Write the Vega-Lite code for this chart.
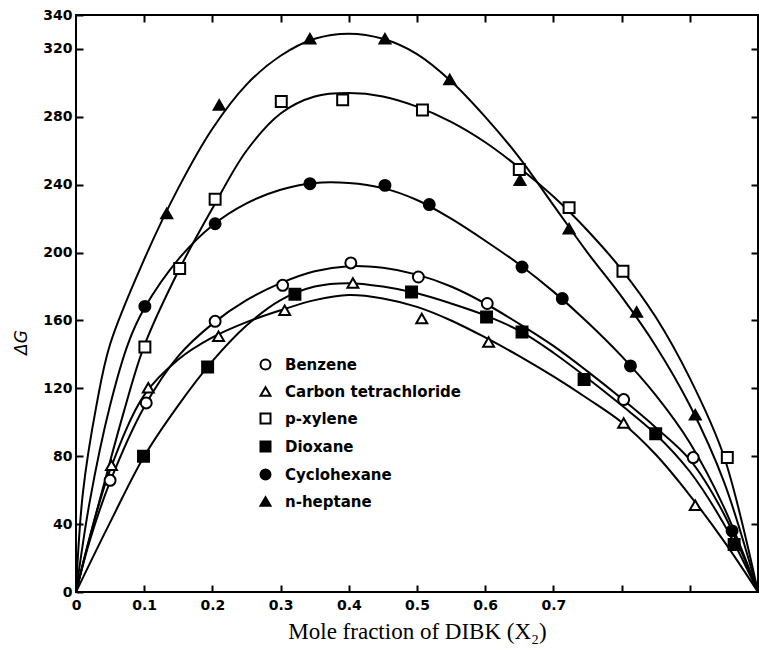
{
  "$schema": "https://vega.github.io/schema/vega-lite/v6.json",
  "width": 682,
  "height": 577,
  "autosize": "none",
  "padding": {"left": 76, "top": 15, "right": 1, "bottom": 61},
  "background": "white",
  "config": {
    "view": {"stroke": "black", "strokeWidth": 2},
    "axis": {"grid": false, "domain": false, "tickColor": "black", "tickWidth": 2, "tickSize": -7, "labelColor": "black", "titleColor": "black", "labelFont": "DejaVu Sans", "labelFontWeight": "bold", "labelFontSize": 14},
    "legend": {"orient": "none", "legendX": 182, "legendY": 342, "padding": 0, "labelFont": "DejaVu Sans", "labelFontWeight": "bold", "labelFontSize": 15, "labelColor": "black", "labelLimit": 0, "labelOffset": 12, "rowPadding": 9, "symbolSize": 100, "symbolStrokeWidth": 2}
  },
  "datasets": {
    "points": [
      {"solvent": "Benzene", "x": 0.050, "dG": 65.8},
      {"solvent": "Benzene", "x": 0.103, "dG": 111.4},
      {"solvent": "Benzene", "x": 0.204, "dG": 159.5},
      {"solvent": "Benzene", "x": 0.303, "dG": 180.7},
      {"solvent": "Benzene", "x": 0.403, "dG": 193.9},
      {"solvent": "Benzene", "x": 0.502, "dG": 185.6},
      {"solvent": "Benzene", "x": 0.603, "dG": 170.0},
      {"solvent": "Benzene", "x": 0.803, "dG": 113.4},
      {"solvent": "Benzene", "x": 0.905, "dG": 79.2},
      {"solvent": "Carbon tetrachloride", "x": 0.052, "dG": 74.7},
      {"solvent": "Carbon tetrachloride", "x": 0.106, "dG": 120.4},
      {"solvent": "Carbon tetrachloride", "x": 0.209, "dG": 150.7},
      {"solvent": "Carbon tetrachloride", "x": 0.306, "dG": 166.0},
      {"solvent": "Carbon tetrachloride", "x": 0.406, "dG": 182.1},
      {"solvent": "Carbon tetrachloride", "x": 0.507, "dG": 161.1},
      {"solvent": "Carbon tetrachloride", "x": 0.605, "dG": 147.3},
      {"solvent": "Carbon tetrachloride", "x": 0.803, "dG": 99.6},
      {"solvent": "Carbon tetrachloride", "x": 0.908, "dG": 51.1},
      {"solvent": "p-xylene", "x": 0.101, "dG": 144.4},
      {"solvent": "p-xylene", "x": 0.152, "dG": 190.6},
      {"solvent": "p-xylene", "x": 0.204, "dG": 231.4},
      {"solvent": "p-xylene", "x": 0.301, "dG": 289.0},
      {"solvent": "p-xylene", "x": 0.391, "dG": 290.0},
      {"solvent": "p-xylene", "x": 0.508, "dG": 284.0},
      {"solvent": "p-xylene", "x": 0.650, "dG": 249.0},
      {"solvent": "p-xylene", "x": 0.723, "dG": 226.5},
      {"solvent": "p-xylene", "x": 0.802, "dG": 189.0},
      {"solvent": "p-xylene", "x": 0.955, "dG": 79.2},
      {"solvent": "Dioxane", "x": 0.099, "dG": 80.0},
      {"solvent": "Dioxane", "x": 0.193, "dG": 132.6},
      {"solvent": "Dioxane", "x": 0.321, "dG": 175.4},
      {"solvent": "Dioxane", "x": 0.492, "dG": 176.8},
      {"solvent": "Dioxane", "x": 0.602, "dG": 162.0},
      {"solvent": "Dioxane", "x": 0.654, "dG": 153.2},
      {"solvent": "Dioxane", "x": 0.745, "dG": 125.2},
      {"solvent": "Dioxane", "x": 0.850, "dG": 93.3},
      {"solvent": "Dioxane", "x": 0.965, "dG": 28.0},
      {"solvent": "Cyclohexane", "x": 0.101, "dG": 168.3},
      {"solvent": "Cyclohexane", "x": 0.204, "dG": 217.0},
      {"solvent": "Cyclohexane", "x": 0.343, "dG": 240.6},
      {"solvent": "Cyclohexane", "x": 0.453, "dG": 239.6},
      {"solvent": "Cyclohexane", "x": 0.518, "dG": 228.3},
      {"solvent": "Cyclohexane", "x": 0.654, "dG": 191.5},
      {"solvent": "Cyclohexane", "x": 0.713, "dG": 172.9},
      {"solvent": "Cyclohexane", "x": 0.813, "dG": 133.2},
      {"solvent": "Cyclohexane", "x": 0.962, "dG": 36.0},
      {"solvent": "n-heptane", "x": 0.133, "dG": 223.0},
      {"solvent": "n-heptane", "x": 0.210, "dG": 287.0},
      {"solvent": "n-heptane", "x": 0.343, "dG": 326.0},
      {"solvent": "n-heptane", "x": 0.453, "dG": 326.0},
      {"solvent": "n-heptane", "x": 0.548, "dG": 302.0},
      {"solvent": "n-heptane", "x": 0.651, "dG": 242.6},
      {"solvent": "n-heptane", "x": 0.723, "dG": 214.0},
      {"solvent": "n-heptane", "x": 0.822, "dG": 165.0},
      {"solvent": "n-heptane", "x": 0.908, "dG": 104.5}
    ],
    "curves": [
      {"solvent": "Benzene", "x": 0, "dG": 0},
      {"solvent": "Benzene", "x": 0.02, "dG": 30},
      {"solvent": "Benzene", "x": 0.05, "dG": 65},
      {"solvent": "Benzene", "x": 0.1, "dG": 109},
      {"solvent": "Benzene", "x": 0.15, "dG": 139},
      {"solvent": "Benzene", "x": 0.2, "dG": 158},
      {"solvent": "Benzene", "x": 0.25, "dG": 172},
      {"solvent": "Benzene", "x": 0.3, "dG": 182},
      {"solvent": "Benzene", "x": 0.35, "dG": 189},
      {"solvent": "Benzene", "x": 0.4, "dG": 192},
      {"solvent": "Benzene", "x": 0.45, "dG": 191},
      {"solvent": "Benzene", "x": 0.5, "dG": 187},
      {"solvent": "Benzene", "x": 0.55, "dG": 180},
      {"solvent": "Benzene", "x": 0.6, "dG": 170},
      {"solvent": "Benzene", "x": 0.65, "dG": 158},
      {"solvent": "Benzene", "x": 0.7, "dG": 145},
      {"solvent": "Benzene", "x": 0.75, "dG": 130},
      {"solvent": "Benzene", "x": 0.8, "dG": 114},
      {"solvent": "Benzene", "x": 0.85, "dG": 97},
      {"solvent": "Benzene", "x": 0.9, "dG": 78},
      {"solvent": "Benzene", "x": 0.95, "dG": 46},
      {"solvent": "Benzene", "x": 1, "dG": 0},
      {"solvent": "Carbon tetrachloride", "x": 0, "dG": 0},
      {"solvent": "Carbon tetrachloride", "x": 0.02, "dG": 32},
      {"solvent": "Carbon tetrachloride", "x": 0.05, "dG": 72},
      {"solvent": "Carbon tetrachloride", "x": 0.1, "dG": 116},
      {"solvent": "Carbon tetrachloride", "x": 0.15, "dG": 137},
      {"solvent": "Carbon tetrachloride", "x": 0.2, "dG": 150},
      {"solvent": "Carbon tetrachloride", "x": 0.25, "dG": 159},
      {"solvent": "Carbon tetrachloride", "x": 0.3, "dG": 166},
      {"solvent": "Carbon tetrachloride", "x": 0.35, "dG": 172},
      {"solvent": "Carbon tetrachloride", "x": 0.4, "dG": 175},
      {"solvent": "Carbon tetrachloride", "x": 0.45, "dG": 173},
      {"solvent": "Carbon tetrachloride", "x": 0.5, "dG": 168},
      {"solvent": "Carbon tetrachloride", "x": 0.55, "dG": 160},
      {"solvent": "Carbon tetrachloride", "x": 0.6, "dG": 150},
      {"solvent": "Carbon tetrachloride", "x": 0.65, "dG": 139},
      {"solvent": "Carbon tetrachloride", "x": 0.7, "dG": 127},
      {"solvent": "Carbon tetrachloride", "x": 0.75, "dG": 114},
      {"solvent": "Carbon tetrachloride", "x": 0.8, "dG": 100},
      {"solvent": "Carbon tetrachloride", "x": 0.85, "dG": 81},
      {"solvent": "Carbon tetrachloride", "x": 0.9, "dG": 57},
      {"solvent": "Carbon tetrachloride", "x": 0.95, "dG": 30},
      {"solvent": "Carbon tetrachloride", "x": 1, "dG": 0},
      {"solvent": "p-xylene", "x": 0, "dG": 0},
      {"solvent": "p-xylene", "x": 0.02, "dG": 32},
      {"solvent": "p-xylene", "x": 0.04, "dG": 62},
      {"solvent": "p-xylene", "x": 0.07, "dG": 106},
      {"solvent": "p-xylene", "x": 0.1, "dG": 145},
      {"solvent": "p-xylene", "x": 0.15, "dG": 189},
      {"solvent": "p-xylene", "x": 0.2, "dG": 226},
      {"solvent": "p-xylene", "x": 0.25, "dG": 260},
      {"solvent": "p-xylene", "x": 0.3, "dG": 282},
      {"solvent": "p-xylene", "x": 0.35, "dG": 292},
      {"solvent": "p-xylene", "x": 0.4, "dG": 294},
      {"solvent": "p-xylene", "x": 0.45, "dG": 292},
      {"solvent": "p-xylene", "x": 0.5, "dG": 286},
      {"solvent": "p-xylene", "x": 0.55, "dG": 277},
      {"solvent": "p-xylene", "x": 0.6, "dG": 265},
      {"solvent": "p-xylene", "x": 0.65, "dG": 250},
      {"solvent": "p-xylene", "x": 0.7, "dG": 233},
      {"solvent": "p-xylene", "x": 0.75, "dG": 213},
      {"solvent": "p-xylene", "x": 0.8, "dG": 190},
      {"solvent": "p-xylene", "x": 0.85, "dG": 162},
      {"solvent": "p-xylene", "x": 0.9, "dG": 126},
      {"solvent": "p-xylene", "x": 0.95, "dG": 80},
      {"solvent": "p-xylene", "x": 1, "dG": 0},
      {"solvent": "Dioxane", "x": 0, "dG": 0},
      {"solvent": "Dioxane", "x": 0.05, "dG": 41},
      {"solvent": "Dioxane", "x": 0.1, "dG": 80},
      {"solvent": "Dioxane", "x": 0.15, "dG": 110},
      {"solvent": "Dioxane", "x": 0.2, "dG": 136},
      {"solvent": "Dioxane", "x": 0.25, "dG": 157},
      {"solvent": "Dioxane", "x": 0.3, "dG": 172},
      {"solvent": "Dioxane", "x": 0.35, "dG": 180},
      {"solvent": "Dioxane", "x": 0.4, "dG": 182},
      {"solvent": "Dioxane", "x": 0.45, "dG": 180},
      {"solvent": "Dioxane", "x": 0.5, "dG": 176},
      {"solvent": "Dioxane", "x": 0.55, "dG": 170},
      {"solvent": "Dioxane", "x": 0.6, "dG": 163},
      {"solvent": "Dioxane", "x": 0.65, "dG": 154},
      {"solvent": "Dioxane", "x": 0.7, "dG": 141},
      {"solvent": "Dioxane", "x": 0.75, "dG": 126},
      {"solvent": "Dioxane", "x": 0.8, "dG": 110},
      {"solvent": "Dioxane", "x": 0.85, "dG": 93},
      {"solvent": "Dioxane", "x": 0.9, "dG": 71},
      {"solvent": "Dioxane", "x": 0.95, "dG": 40},
      {"solvent": "Dioxane", "x": 1, "dG": 0},
      {"solvent": "Cyclohexane", "x": 0, "dG": 0},
      {"solvent": "Cyclohexane", "x": 0.02, "dG": 53},
      {"solvent": "Cyclohexane", "x": 0.05, "dG": 110},
      {"solvent": "Cyclohexane", "x": 0.077, "dG": 147},
      {"solvent": "Cyclohexane", "x": 0.1, "dG": 167},
      {"solvent": "Cyclohexane", "x": 0.15, "dG": 196},
      {"solvent": "Cyclohexane", "x": 0.2, "dG": 216},
      {"solvent": "Cyclohexane", "x": 0.25, "dG": 229},
      {"solvent": "Cyclohexane", "x": 0.3, "dG": 237},
      {"solvent": "Cyclohexane", "x": 0.35, "dG": 241},
      {"solvent": "Cyclohexane", "x": 0.4, "dG": 241},
      {"solvent": "Cyclohexane", "x": 0.45, "dG": 238},
      {"solvent": "Cyclohexane", "x": 0.5, "dG": 231},
      {"solvent": "Cyclohexane", "x": 0.55, "dG": 220},
      {"solvent": "Cyclohexane", "x": 0.6, "dG": 207},
      {"solvent": "Cyclohexane", "x": 0.65, "dG": 193},
      {"solvent": "Cyclohexane", "x": 0.7, "dG": 177},
      {"solvent": "Cyclohexane", "x": 0.75, "dG": 159},
      {"solvent": "Cyclohexane", "x": 0.8, "dG": 139},
      {"solvent": "Cyclohexane", "x": 0.85, "dG": 116},
      {"solvent": "Cyclohexane", "x": 0.9, "dG": 88},
      {"solvent": "Cyclohexane", "x": 0.95, "dG": 50},
      {"solvent": "Cyclohexane", "x": 1, "dG": 0},
      {"solvent": "n-heptane", "x": 0, "dG": 0},
      {"solvent": "n-heptane", "x": 0.01, "dG": 58},
      {"solvent": "n-heptane", "x": 0.03, "dG": 110},
      {"solvent": "n-heptane", "x": 0.05, "dG": 146},
      {"solvent": "n-heptane", "x": 0.1, "dG": 196},
      {"solvent": "n-heptane", "x": 0.15, "dG": 238},
      {"solvent": "n-heptane", "x": 0.2, "dG": 273},
      {"solvent": "n-heptane", "x": 0.25, "dG": 299},
      {"solvent": "n-heptane", "x": 0.3, "dG": 316},
      {"solvent": "n-heptane", "x": 0.35, "dG": 326},
      {"solvent": "n-heptane", "x": 0.4, "dG": 329},
      {"solvent": "n-heptane", "x": 0.45, "dG": 326},
      {"solvent": "n-heptane", "x": 0.5, "dG": 317},
      {"solvent": "n-heptane", "x": 0.55, "dG": 301},
      {"solvent": "n-heptane", "x": 0.6, "dG": 280},
      {"solvent": "n-heptane", "x": 0.65, "dG": 256},
      {"solvent": "n-heptane", "x": 0.7, "dG": 228},
      {"solvent": "n-heptane", "x": 0.75, "dG": 200},
      {"solvent": "n-heptane", "x": 0.8, "dG": 174},
      {"solvent": "n-heptane", "x": 0.85, "dG": 145},
      {"solvent": "n-heptane", "x": 0.9, "dG": 110},
      {"solvent": "n-heptane", "x": 0.95, "dG": 65},
      {"solvent": "n-heptane", "x": 1, "dG": 0}
    ]
  },
  "layer": [
    {
      "data": {"name": "curves"},
      "mark": {"type": "line", "interpolate": "catmull-rom", "color": "black", "strokeWidth": 2},
      "encoding": {
        "x": {
          "field": "x", "type": "quantitative",
          "scale": {"domain": [0, 1], "nice": false, "zero": false},
          "axis": {
            "orient": "bottom",
            "values": [0, 0.1, 0.2, 0.3, 0.4, 0.5, 0.6, 0.7, 0.8, 0.9],
            "labelExpr": "datum.value > 0.75 ? '' : (datum.value == 0 ? '0' : format(datum.value, '.1f'))",
            "labelPadding": 13, "labelFlush": false, "labelOverlap": false,
            "title": "Mole fraction of DIBK (X₂)",
            "titleFont": "Liberation Serif", "titleFontSize": 23, "titleFontWeight": "normal", "titlePadding": 8
          }
        },
        "y": {
          "field": "dG", "type": "quantitative",
          "scale": {"domain": [0, 340], "nice": false},
          "axis": {
            "orient": "left",
            "values": [0, 40, 80, 120, 160, 200, 240, 280, 320, 340],
            "labelPadding": 11, "labelOverlap": false, "labelFlush": false,
            "title": "ΔG",
            "titleFont": "DejaVu Sans", "titleFontStyle": "italic", "titleFontWeight": "normal", "titleFontSize": 17,
            "titleX": -55, "titleY": 327, "titleAngle": -90, "titleAlign": "center", "titleBaseline": "middle"
          }
        },
        "detail": {"field": "solvent"}
      }
    },
    {
      "data": {"name": "points"},
      "mark": {"type": "point", "filled": true, "strokeWidth": 2, "size": 120, "opacity": 1},
      "encoding": {
        "x": {
          "field": "x", "type": "quantitative",
          "scale": {"domain": [0, 1], "nice": false, "zero": false},
          "axis": {"orient": "top", "values": [0.1, 0.2, 0.3, 0.4, 0.5, 0.6, 0.7, 0.8, 0.9], "labels": false, "title": null}
        },
        "y": {
          "field": "dG", "type": "quantitative",
          "scale": {"domain": [0, 340], "nice": false},
          "axis": {"orient": "right", "values": [40, 80, 120, 160, 200, 240, 280, 320], "labels": false, "title": null}
        },
        "shape": {
          "field": "solvent", "type": "nominal",
          "scale": {
            "domain": ["Benzene", "Carbon tetrachloride", "p-xylene", "Dioxane", "Cyclohexane", "n-heptane"],
            "range": ["circle", "triangle-up", "square", "square", "circle", "triangle-up"]
          },
          "legend": {"title": null}
        },
        "fill": {
          "field": "solvent", "type": "nominal",
          "scale": {
            "domain": ["Benzene", "Carbon tetrachloride", "p-xylene", "Dioxane", "Cyclohexane", "n-heptane"],
            "range": ["white", "white", "white", "black", "black", "black"]
          },
          "legend": {"title": null}
        },
        "stroke": {
          "field": "solvent", "type": "nominal",
          "scale": {
            "domain": ["Benzene", "Carbon tetrachloride", "p-xylene", "Dioxane", "Cyclohexane", "n-heptane"],
            "range": ["black", "black", "black", "black", "black", "black"]
          },
          "legend": {"title": null}
        }
      }
    }
  ],
  "resolve": {"axis": {"x": "independent", "y": "independent"}}
}
